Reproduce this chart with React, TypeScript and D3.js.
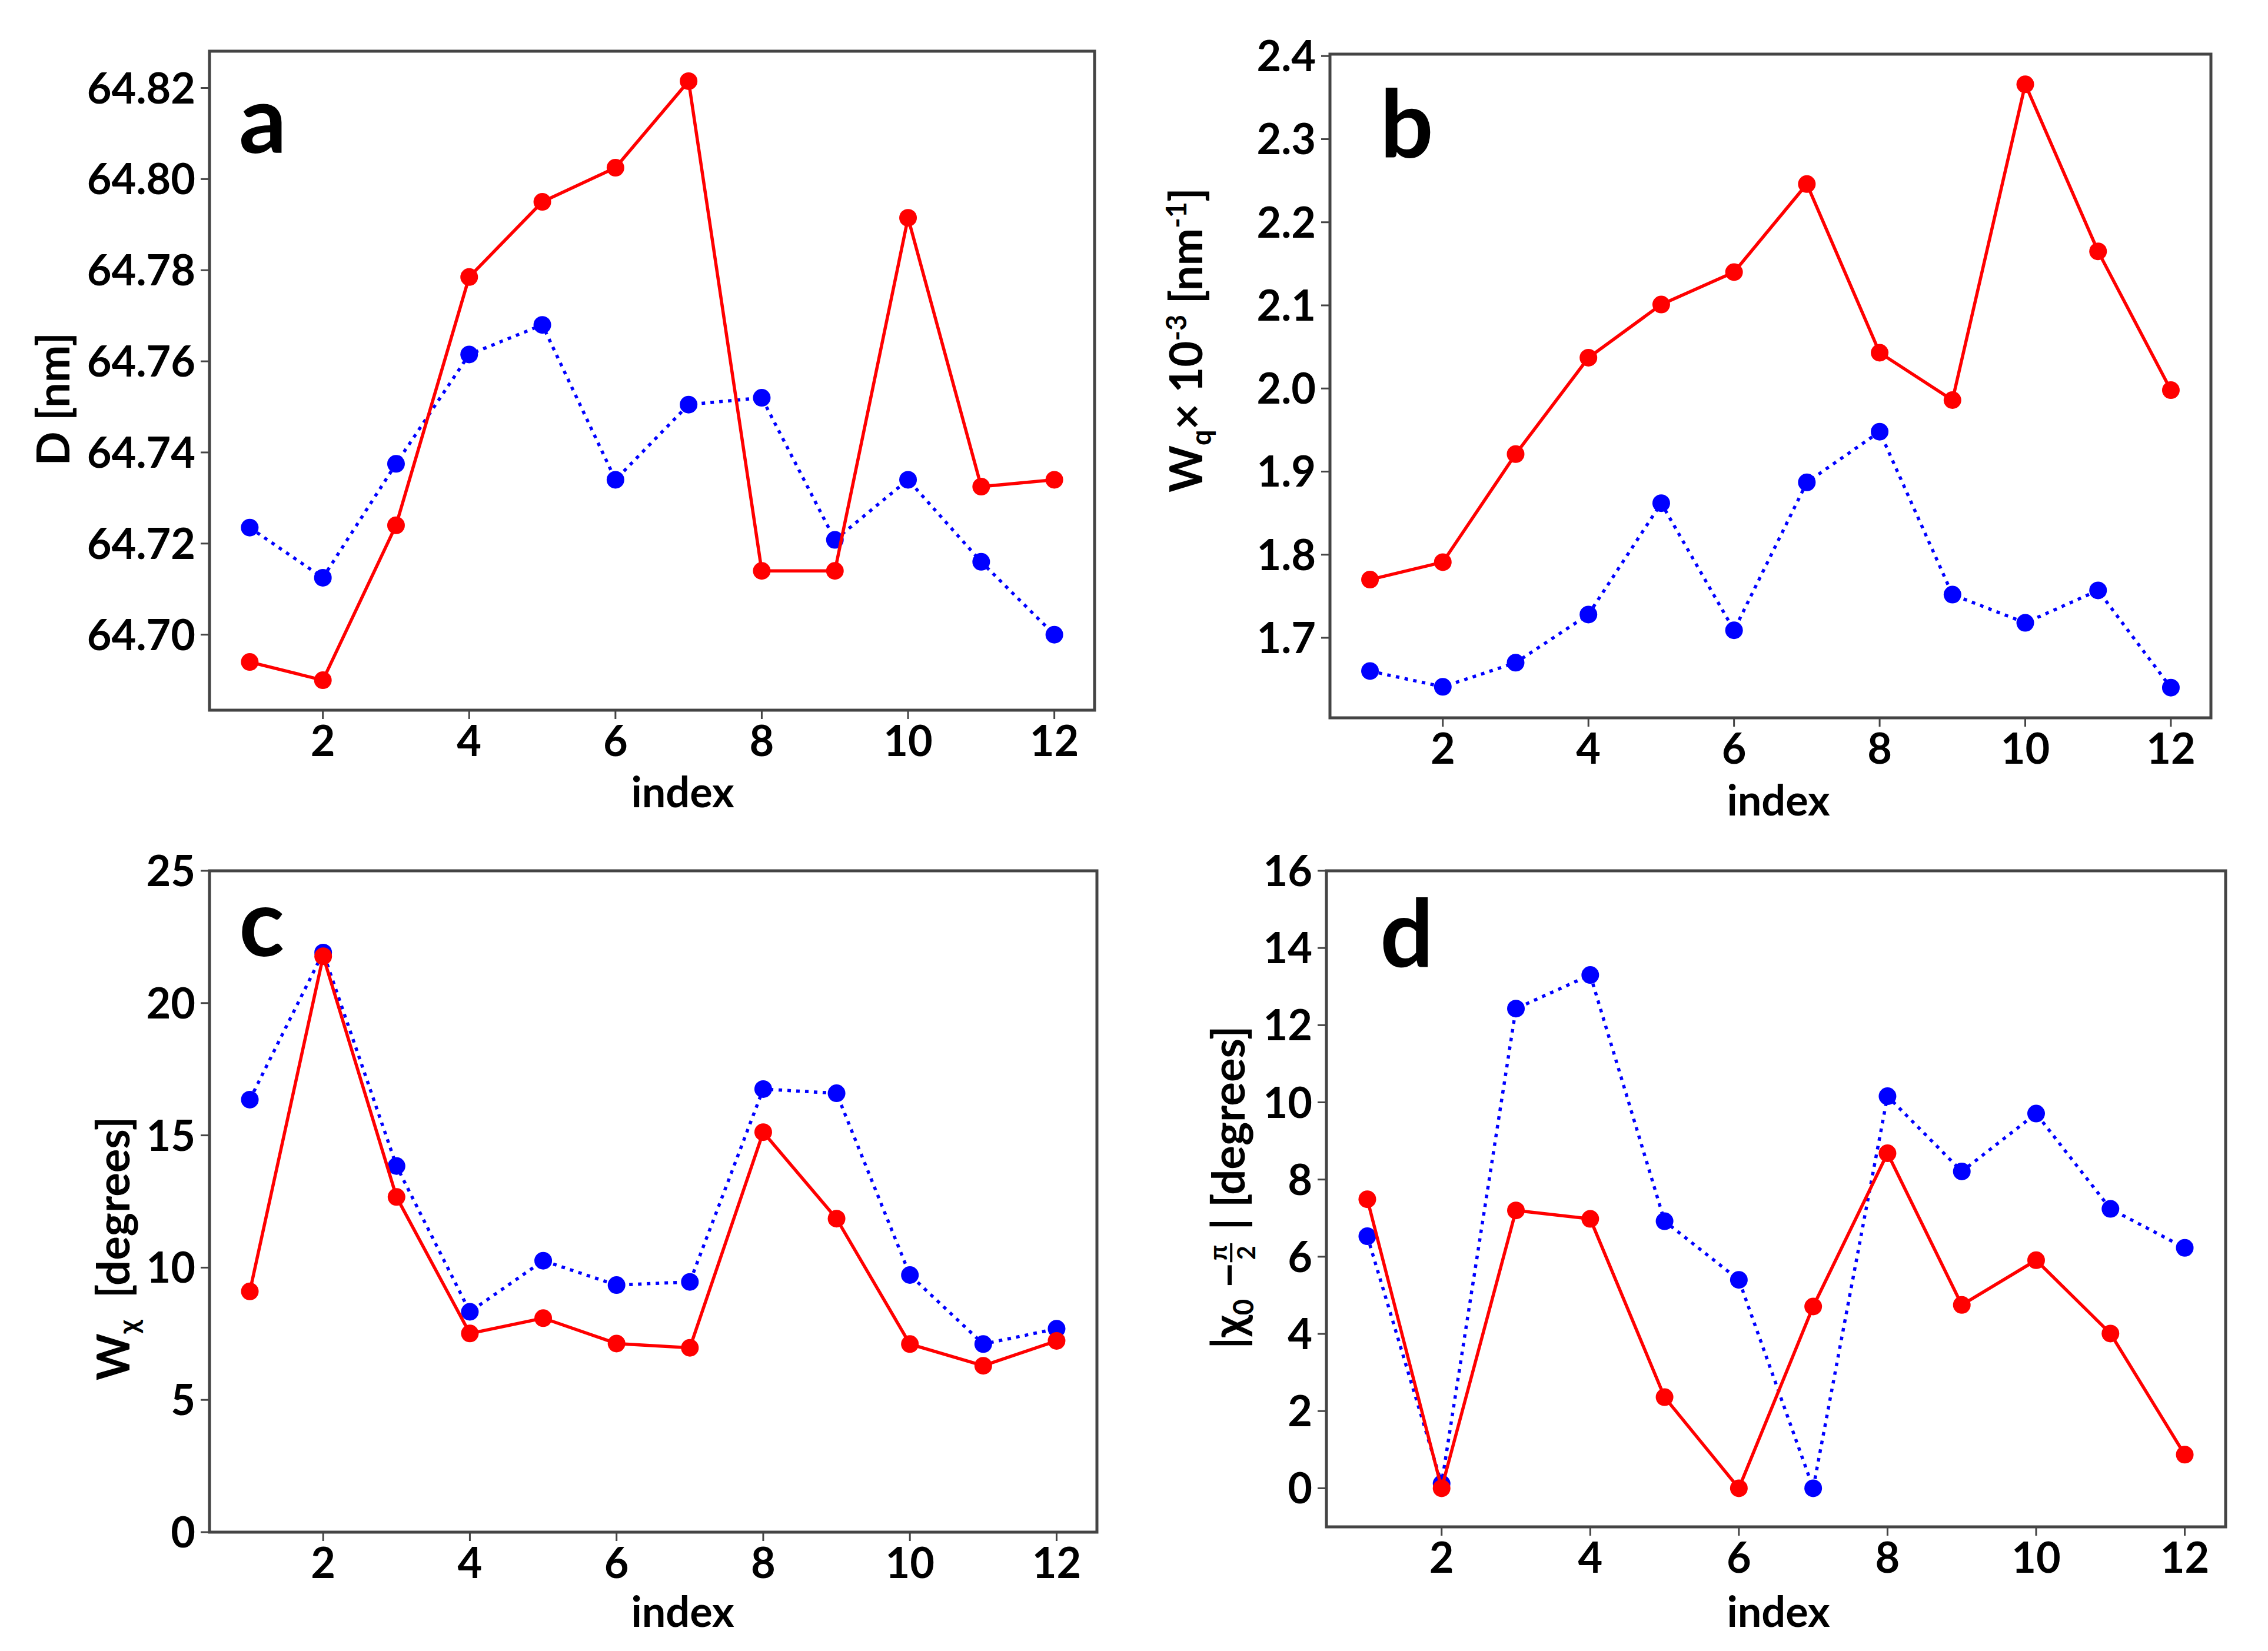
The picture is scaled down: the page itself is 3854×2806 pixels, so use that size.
import { useRef, useEffect } from 'react';
import * as d3 from 'd3';

const WIDTH = 3854;
const HEIGHT = 2806;
const FONT = "Lato, 'Open Sans', 'DejaVu Sans', sans-serif";
const FRAME = '#444444';

// index on the x axis, shared by all panels
const INDEX = [1, 2, 3, 4, 5, 6, 7, 8, 9, 10, 11, 12];
const X_TICKS = [2, 4, 6, 8, 10, 12];

// panel a: D [nm]
const D_RED = [64.694, 64.690, 64.724, 64.7785, 64.795, 64.8025, 64.8215, 64.714, 64.714, 64.7915, 64.7325, 64.734];
const D_BLUE = [64.7235, 64.7125, 64.7375, 64.7615, 64.768, 64.734, 64.7505, 64.752, 64.7208, 64.734, 64.716, 64.700];
const D_TICKS = [64.70, 64.72, 64.74, 64.76, 64.78, 64.80, 64.82];

// panel b: Wq x 10^-3 [nm^-1]
const WQ_RED = [1.770, 1.791, 1.921, 2.037, 2.101, 2.140, 2.246, 2.043, 1.986, 2.366, 2.165, 1.998];
const WQ_BLUE = [1.660, 1.641, 1.670, 1.728, 1.862, 1.709, 1.887, 1.948, 1.752, 1.718, 1.757, 1.640];
const WQ_TICKS = [1.7, 1.8, 1.9, 2.0, 2.1, 2.2, 2.3, 2.4];

// panel c: W_chi [degrees]
const WCHI_RED = [9.10, 21.77, 12.67, 7.51, 8.09, 7.13, 6.97, 15.12, 11.85, 7.11, 6.29, 7.23];
const WCHI_BLUE = [16.35, 21.91, 13.84, 8.33, 10.26, 9.34, 9.46, 16.75, 16.59, 9.72, 7.11, 7.69];
const WCHI_TICKS = [0, 5, 10, 15, 20, 25];

// panel d: |chi0 - pi/2| [degrees]
const CHI_RED = [7.49, 0, 7.20, 6.98, 2.36, 0, 4.71, 8.68, 4.75, 5.91, 4.01, 0.87];
const CHI_BLUE = [6.53, 0.12, 12.43, 13.30, 6.92, 5.40, 0, 10.16, 8.21, 9.71, 7.24, 6.23];
const CHI_TICKS = [0, 2, 4, 6, 8, 10, 12, 14, 16];

interface Piece {
  t?: string;
  frac?: [string, string];
  shift?: 'sub' | 'sup';
}

interface Panel {
  letter: string;
  red: number[];
  blue: number[];
  ticks: number[];
  fmt: (v: number) => string;
  yDomain?: [number, number];
  box: { x0: number; x1: number; y0: number; y1: number };
  label: Piece[];
  labelX: number;
  labelY: number;
  indexX: number;
  indexY: number;
  letterX: number;
  letterY: number;
}

const PANELS: Panel[] = [
  {
    letter: 'a', red: D_RED, blue: D_BLUE, ticks: D_TICKS, fmt: (v) => v.toFixed(2),
    box: { x0: 356, x1: 1860, y0: 87, y1: 1207 },
    label: [{ t: 'D [nm]' }],
    labelX: 118, labelY: 678, indexX: 1160, indexY: 1372, letterX: 406, letterY: 260,
  },
  {
    letter: 'b', red: WQ_RED, blue: WQ_BLUE, ticks: WQ_TICKS, fmt: (v) => v.toFixed(1),
    box: { x0: 2260, x1: 3757, y0: 92, y1: 1220 },
    label: [
      { t: 'W' }, { t: 'q', shift: 'sub' }, { t: '× 10' }, { t: '-3', shift: 'sup' },
      { t: ' [nm' }, { t: '-1', shift: 'sup' }, { t: ']' },
    ],
    labelX: 2043, labelY: 578, indexX: 3022, indexY: 1386, letterX: 2345, letterY: 267,
  },
  {
    letter: 'c', red: WCHI_RED, blue: WCHI_BLUE, ticks: WCHI_TICKS, fmt: (v) => String(v),
    yDomain: [0, 25],
    box: { x0: 356, x1: 1864, y0: 1480, y1: 2604 },
    label: [{ t: 'W' }, { t: 'χ', shift: 'sub' }, { t: '  [degrees]' }],
    labelX: 220, labelY: 2122, indexX: 1160, indexY: 2765, letterX: 406, letterY: 1625,
  },
  {
    letter: 'd', red: CHI_RED, blue: CHI_BLUE, ticks: CHI_TICKS, fmt: (v) => String(v),
    yDomain: [-1, 16],
    box: { x0: 2254, x1: 3782, y0: 1480, y1: 2595 },
    label: [
      { t: '|χ' }, { t: '0', shift: 'sub' }, { t: ' −' }, { frac: ['π', '2'] }, { t: ' | [degrees]' },
    ],
    labelX: 2115, labelY: 2018, indexX: 3022, indexY: 2765, letterX: 2345, letterY: 1643,
  },
];

type G = d3.Selection<SVGGElement, unknown, null, undefined>;

// rotated axis label built from pieces, centred on (x, y)
function drawLabel(parent: G, pieces: Piece[], x: number, y: number, size: number) {
  const g = parent.append('g').attr('transform', `translate(${x},${y}) rotate(-90)`);
  const inner = g.append('g');
  let cx = 0;
  pieces.forEach((p) => {
    if (p.frac) {
      const fs = size * 0.55;
      const num = inner.append('text').attr('y', -size * 0.4).attr('font-size', fs).text(p.frac[0]);
      const den = inner.append('text').attr('y', size * 0.24).attr('font-size', fs).text(p.frac[1]);
      const w = Math.max(
        (num.node() as SVGTextElement).getComputedTextLength(),
        (den.node() as SVGTextElement).getComputedTextLength(),
      ) + 6;
      num.attr('x', cx + w / 2).attr('text-anchor', 'middle');
      den.attr('x', cx + w / 2).attr('text-anchor', 'middle');
      inner.append('line')
        .attr('x1', cx).attr('x2', cx + w)
        .attr('y1', -size * 0.3).attr('y2', -size * 0.3)
        .attr('stroke', '#000').attr('stroke-width', 4);
      cx += w + 4;
    } else {
      const fs = p.shift ? size * 0.62 : size;
      const dy = p.shift === 'sub' ? size * 0.2 : p.shift === 'sup' ? -size * 0.36 : 0;
      const t = inner.append('text')
        .attr('x', cx).attr('y', dy)
        .attr('font-size', fs)
        .style('white-space', 'pre')
        .text(p.t || '');
      cx += (t.node() as SVGTextElement).getComputedTextLength();
    }
  });
  inner.attr('transform', `translate(${-cx / 2},0)`);
}

export default function App() {
  const svgRef = useRef<SVGSVGElement>(null);

  useEffect(() => {
    if (!svgRef.current) return;
    const svg = d3.select(svgRef.current);
    svg.selectAll('*').remove();

    const root = svg.append('g')
      .attr('font-family', FONT)
      .attr('font-weight', 700)
      .attr('fill', '#000') as unknown as G;

    PANELS.forEach((p) => {
      const { x0, x1, y0, y1 } = p.box;

      const x = d3.scaleLinear().domain([0.45, 12.55]).range([x0, x1]);
      let yDom = p.yDomain;
      if (!yDom) {
        // matplotlib-style 5% autoscale margin
        const all = [...p.red, ...p.blue];
        const lo = d3.min(all)!;
        const hi = d3.max(all)!;
        const pad = (hi - lo) * 0.05;
        yDom = [lo - pad, hi + pad];
      }
      const y = d3.scaleLinear().domain(yDom).range([y1, y0]);

      const g = root.append('g');

      // x ticks
      X_TICKS.forEach((t) => {
        g.append('line')
          .attr('x1', x(t)).attr('x2', x(t))
          .attr('y1', y1).attr('y2', y1 + 15)
          .attr('stroke', FRAME).attr('stroke-width', 3);
        g.append('text')
          .attr('x', x(t)).attr('y', y1 + 78)
          .attr('text-anchor', 'middle')
          .attr('font-size', 72)
          .text(String(t));
      });

      // y ticks
      p.ticks.forEach((t) => {
        g.append('line')
          .attr('x1', x0 - 15).attr('x2', x0)
          .attr('y1', y(t)).attr('y2', y(t))
          .attr('stroke', FRAME).attr('stroke-width', 3);
        g.append('text')
          .attr('x', x0 - 24).attr('y', y(t) + 26)
          .attr('text-anchor', 'end')
          .attr('font-size', 72)
          .text(p.fmt(t));
      });

      // series: blue dotted underneath, red solid on top
      const line = d3.line<number>()
        .x((_, i) => x(INDEX[i]))
        .y((d) => y(d));

      g.append('path')
        .attr('d', line(p.blue))
        .attr('fill', 'none')
        .attr('stroke', '#0000ff')
        .attr('stroke-width', 5.5)
        .attr('stroke-dasharray', '6,9');
      g.selectAll('circle.blue')
        .data(p.blue)
        .join('circle')
        .attr('class', 'blue')
        .attr('cx', (_, i) => x(INDEX[i]))
        .attr('cy', (d) => y(d))
        .attr('r', 15)
        .attr('fill', '#0000ff');

      g.append('path')
        .attr('d', line(p.red))
        .attr('fill', 'none')
        .attr('stroke', '#ff0000')
        .attr('stroke-width', 5.5);
      g.selectAll('circle.red')
        .data(p.red)
        .join('circle')
        .attr('class', 'red')
        .attr('cx', (_, i) => x(INDEX[i]))
        .attr('cy', (d) => y(d))
        .attr('r', 15)
        .attr('fill', '#ff0000');

      // frame
      g.append('rect')
        .attr('x', x0).attr('y', y0)
        .attr('width', x1 - x0).attr('height', y1 - y0)
        .attr('fill', 'none')
        .attr('stroke', FRAME)
        .attr('stroke-width', 5);

      // panel letter
      g.append('text')
        .attr('x', p.letterX).attr('y', p.letterY)
        .attr('font-size', 160)
        .text(p.letter);

      // x label
      g.append('text')
        .attr('x', p.indexX).attr('y', p.indexY)
        .attr('text-anchor', 'middle')
        .attr('font-size', 72)
        .text('index');

      // y label
      drawLabel(g, p.label, p.labelX, p.labelY, 76);
    });
  }, []);

  return (
    <svg
      ref={svgRef}
      width={WIDTH}
      height={HEIGHT}
      viewBox={`0 0 ${WIDTH} ${HEIGHT}`}
      style={{ position: 'absolute', left: 0, top: 0, background: '#fff' }}
    />
  );
}
